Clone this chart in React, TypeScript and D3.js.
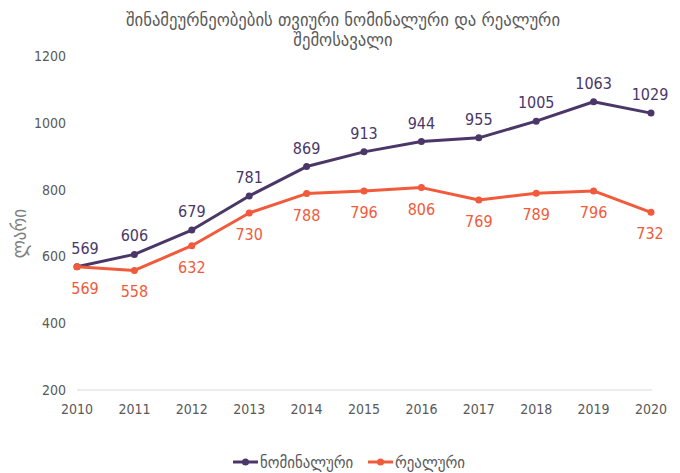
import React from "react";
import * as d3 from "d3";

const years = [2010, 2011, 2012, 2013, 2014, 2015, 2016, 2017, 2018, 2019, 2020];
const nominal = [569, 606, 679, 781, 869, 913, 944, 955, 1005, 1063, 1029];
const real = [569, 558, 632, 730, 788, 796, 806, 769, 789, 796, 732];
const yTicks = [200, 400, 600, 800, 1000, 1200];
const titleLines = ["შინამეურნეობების თვიური ნომინალური და რეალური", "შემოსავალი"];
const yLabel = "ლარი";
const seriesNames = ["ნომინალური", "რეალური"];

const W = 680, H = 473;
const NOM = "#4a3768";
const REAL = "#f15a3a";
const TXT = "#595959";
const FONT = "'DejaVu Sans Condensed', 'DejaVu Sans', sans-serif";

export default function App() {
  const x = d3.scaleLinear().domain([2010, 2020]).range([77, 651]);
  const y = d3.scaleLinear().domain([200, 1200]).range([390, 56]);
  const line = d3.line<number>().x((_, i) => x(years[i])).y((d) => y(d));

  const series = [
    { vals: nominal, color: NOM, dy: -13 },
    { vals: real, color: REAL, dy: 27 },
  ];
  const labelDx = (i: number) => (i === 0 ? 8 : i === years.length - 1 ? -1 : 0);

  return (
    <svg width={W} height={H} style={{ position: "absolute", left: 0, top: 0, fontFamily: FONT }}>
      <rect width={W} height={H} fill="#fff" />
      {titleLines.map((t, i) => (
        <text key={i} x={343} y={26 + i * 20} textAnchor="middle" fontSize={18.5} fill={TXT}>
          {t}
        </text>
      ))}
      <line x1={77} x2={652} y1={y(200)} y2={y(200)} stroke="#d9d9d9" strokeWidth={1} />
      {yTicks.map((t) => (
        <text key={t} x={66} y={y(t) + 5} textAnchor="end" fontSize={14} fill={TXT}>
          {t}
        </text>
      ))}
      {years.map((yr) => (
        <text key={yr} x={x(yr)} y={414} textAnchor="middle" fontSize={14} fill={TXT}>
          {yr}
        </text>
      ))}
      <text transform={`translate(26,${y(668)}) rotate(-90)`} textAnchor="middle" fontSize={19} fill="#7f7f7f">
        {yLabel}
      </text>
      {series.map((s, si) => (
        <g key={si}>
          <path d={line(s.vals) || ""} fill="none" stroke={s.color} strokeWidth={3} strokeLinejoin="round" />
          {s.vals.map((v, i) => (
            <circle key={i} cx={x(years[i])} cy={y(v)} r={3.5} fill={s.color} />
          ))}
          {s.vals.map((v, i) => (
            <text key={"t" + i} x={x(years[i]) + labelDx(i)} y={y(v) + s.dy} textAnchor="middle" fontSize={16} fill={s.color}>
              {v}
            </text>
          ))}
        </g>
      ))}
      {[
        { x0: 233, color: NOM, name: seriesNames[0] },
        { x0: 368, color: REAL, name: seriesNames[1] },
      ].map((l, i) => (
        <g key={i}>
          <line x1={l.x0} x2={l.x0 + 25} y1={462} y2={462} stroke={l.color} strokeWidth={3} />
          <circle cx={l.x0 + 12.5} cy={462} r={3.5} fill={l.color} />
          <text x={l.x0 + 27} y={468} fontSize={16.5} fill={TXT}>
            {l.name}
          </text>
        </g>
      ))}
    </svg>
  );
}
